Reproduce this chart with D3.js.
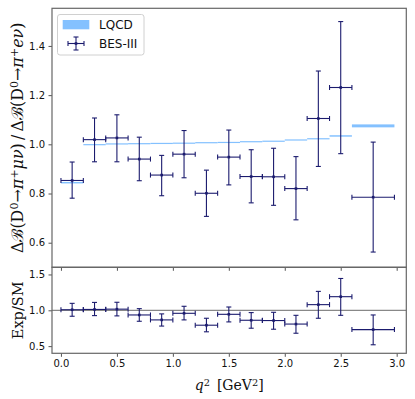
<!DOCTYPE html>
<html>
<head>
<meta charset="utf-8">
<script src="https://cdn.jsdelivr.net/npm/d3@7"></script>
<style>
  body { margin: 0; background: #fff; }
  svg { display: block; }
  .tick text { font-family: "DejaVu Sans", sans-serif; font-size: 10px; fill: #111; }
  .tick line { stroke: #555; }
  .axis path.domain { display: none; }
</style>
</head>
<body>
<div id="vis"></div>
<script>
// q^2 bins [GeV^2]
var binLo = [0.0, 0.2, 0.4, 0.6, 0.8, 1.0, 1.2, 1.4, 1.6, 1.8, 2.0, 2.2, 2.4, 2.6];
var binHi = [0.2, 0.4, 0.6, 0.8, 1.0, 1.2, 1.4, 1.6, 1.8, 2.0, 2.2, 2.4, 2.6, 2.98];
var binMid = [0.1, 0.3, 0.5, 0.7, 0.9, 1.1, 1.3, 1.5, 1.7, 1.9, 2.1, 2.3, 2.5, 2.79];

// LQCD prediction (band centre and half width)
var lqcd = [0.844, 0.999, 1.002, 1.003, 1.004, 1.005, 1.007, 1.008, 1.011, 1.013, 1.018, 1.023, 1.034, 1.075];
var lqcdErr = [0.003, 0.002, 0.002, 0.002, 0.002, 0.002, 0.002, 0.002, 0.002, 0.002, 0.002, 0.002, 0.003, 0.006];

// BES-III ratio measurement
var bes = [0.853, 1.019, 1.026, 0.940, 0.875, 0.960, 0.801, 0.948, 0.869, 0.868, 0.820, 1.105, 1.231, 0.785];
var besUp = [0.928, 1.107, 1.120, 1.029, 0.955, 1.056, 0.895, 1.058, 0.978, 0.984, 0.950, 1.298, 1.499, 1.009];
var besDn = [0.781, 0.929, 0.929, 0.852, 0.791, 0.864, 0.707, 0.835, 0.762, 0.752, 0.693, 0.910, 0.962, 0.562];

// Exp/SM
var ratio = [1.008, 1.012, 1.016, 0.935, 0.866, 0.958, 0.792, 0.944, 0.861, 0.857, 0.808, 1.079, 1.190, 0.731];
var ratioUp = [1.097, 1.110, 1.112, 1.023, 0.950, 1.056, 0.889, 1.046, 0.968, 0.972, 0.930, 1.264, 1.444, 0.935];
var ratioDn = [0.917, 0.926, 0.922, 0.847, 0.780, 0.866, 0.700, 0.838, 0.750, 0.736, 0.680, 0.889, 0.930, 0.519];

var xTicks = [0.0, 0.5, 1.0, 1.5, 2.0, 2.5, 3.0];
var yTicksTop = [0.6, 0.8, 1.0, 1.2, 1.4];
var yTicksBot = [0.5, 1.0, 1.5];

var width = 415, height = 399;
var left = 52, right = 406.3;
var topY0 = 8.3, topY1 = 267.3, botY1 = 353.3;

var dataColor = '#1b1b6e';
var bandColor = '#84c1ff';

var svg = d3.select('#vis').append('svg')
    .attr('width', width)
    .attr('height', height);

var x = d3.scaleLinear().domain([-0.08, 3.086]).range([left, right]);
var yTop = d3.scaleLinear().domain([0.5, 1.553]).range([topY1, topY0]);
var yBot = d3.scaleLinear().domain([0.4, 1.6]).range([botY1, topY1]);

function drawErrors(g, yScale, mids, vals, ups, dns) {
    var pts = g.selectAll('.pt')
        .data(mids.map(function (m, i) { return i; }))
        .enter().append('g')
        .attr('class', 'pt');

    pts.append('line')
        .attr('x1', i => x(binLo[i])).attr('x2', i => x(binHi[i]))
        .attr('y1', i => yScale(vals[i])).attr('y2', i => yScale(vals[i]));
    pts.append('line')
        .attr('x1', i => x(mids[i])).attr('x2', i => x(mids[i]))
        .attr('y1', i => yScale(ups[i])).attr('y2', i => yScale(dns[i]));
    // caps
    pts.append('line')
        .attr('x1', i => x(mids[i]) - 2.5).attr('x2', i => x(mids[i]) + 2.5)
        .attr('y1', i => yScale(ups[i])).attr('y2', i => yScale(ups[i]));
    pts.append('line')
        .attr('x1', i => x(mids[i]) - 2.5).attr('x2', i => x(mids[i]) + 2.5)
        .attr('y1', i => yScale(dns[i])).attr('y2', i => yScale(dns[i]));
    pts.append('line')
        .attr('x1', i => x(binLo[i])).attr('x2', i => x(binLo[i]))
        .attr('y1', i => yScale(vals[i]) - 2.5).attr('y2', i => yScale(vals[i]) + 2.5);
    pts.append('line')
        .attr('x1', i => x(binHi[i])).attr('x2', i => x(binHi[i]))
        .attr('y1', i => yScale(vals[i]) - 2.5).attr('y2', i => yScale(vals[i]) + 2.5);
    pts.selectAll('line')
        .attr('stroke', dataColor)
        .attr('stroke-width', 1.1);
    pts.append('rect')
        .attr('x', i => x(mids[i]) - 1.3).attr('y', i => yScale(vals[i]) - 1.3)
        .attr('width', 2.6).attr('height', 2.6)
        .attr('fill', dataColor);
}

// ---- top panel ----
var gTop = svg.append('g');

gTop.selectAll('.band')
    .data(lqcd.map(function (v, i) { return i; }))
    .enter().append('rect')
    .attr('class', 'band')
    .attr('x', i => x(binLo[i]))
    .attr('width', i => x(binHi[i]) - x(binLo[i]))
    .attr('y', i => yTop(lqcd[i] + lqcdErr[i]))
    .attr('height', i => Math.max(1.2, yTop(lqcd[i] - lqcdErr[i]) - yTop(lqcd[i] + lqcdErr[i])))
    .attr('fill', bandColor);

drawErrors(gTop, yTop, binMid, bes, besUp, besDn);

gTop.append('g')
    .attr('class', 'axis')
    .attr('transform', 'translate(' + left + ',0)')
    .call(d3.axisLeft(yTop).tickValues(yTicksTop).tickFormat(d3.format('.1f')).tickSize(3.5).tickPadding(3.5));

gTop.append('g')
    .attr('class', 'axis')
    .attr('transform', 'translate(0,' + topY1 + ')')
    .call(d3.axisBottom(x).tickValues(xTicks).tickFormat('').tickSize(3.5));

gTop.append('rect')
    .attr('x', left).attr('y', topY0)
    .attr('width', right - left).attr('height', topY1 - topY0)
    .attr('fill', 'none').attr('stroke', '#666').attr('stroke-width', 1.2);

// legend
var leg = svg.append('g');
leg.append('rect')
    .attr('x', 57.5).attr('y', 14.5).attr('width', 86.5).attr('height', 40.5)
    .attr('rx', 2.5)
    .attr('fill', 'white').attr('fill-opacity', 0.8)
    .attr('stroke', '#d0d0d0').attr('stroke-width', 1);
leg.append('rect')
    .attr('x', 62.7).attr('y', 20).attr('width', 26.6).attr('height', 9.3)
    .attr('fill', bandColor);
leg.append('line').attr('x1', 68).attr('x2', 84).attr('y1', 43.5).attr('y2', 43.5);
leg.append('line').attr('x1', 76).attr('x2', 76).attr('y1', 37).attr('y2', 50);
leg.append('line').attr('x1', 68).attr('x2', 68).attr('y1', 41).attr('y2', 46);
leg.append('line').attr('x1', 84).attr('x2', 84).attr('y1', 41).attr('y2', 46);
leg.append('line').attr('x1', 73.5).attr('x2', 78.5).attr('y1', 37).attr('y2', 37);
leg.append('line').attr('x1', 73.5).attr('x2', 78.5).attr('y1', 50).attr('y2', 50);
leg.selectAll('line').attr('stroke', dataColor).attr('stroke-width', 1.1);
leg.append('rect').attr('x', 74.7).attr('y', 42.2).attr('width', 2.6).attr('height', 2.6).attr('fill', dataColor);
leg.selectAll('text')
    .data(['LQCD', 'BES-III'])
    .enter().append('text')
    .attr('x', 99)
    .attr('y', (d, i) => 29 + i * 19)
    .attr('font-family', 'DejaVu Sans, sans-serif')
    .attr('font-size', 12)
    .attr('fill', '#111')
    .text(d => d);

// ---- bottom panel ----
var gBot = svg.append('g');

gBot.append('line')
    .attr('x1', left).attr('x2', right)
    .attr('y1', yBot(1.0)).attr('y2', yBot(1.0))
    .attr('stroke', '#888').attr('stroke-width', 1.2);

drawErrors(gBot, yBot, binMid, ratio, ratioUp, ratioDn);

gBot.append('g')
    .attr('class', 'axis')
    .attr('transform', 'translate(' + left + ',0)')
    .call(d3.axisLeft(yBot).tickValues(yTicksBot).tickFormat(d3.format('.1f')).tickSize(3.5).tickPadding(3.5));

gBot.append('g')
    .attr('class', 'axis')
    .attr('transform', 'translate(0,' + botY1 + ')')
    .call(d3.axisBottom(x).tickValues(xTicks).tickFormat(d3.format('.1f')).tickSize(3.5).tickPadding(3));

gBot.append('rect')
    .attr('x', left).attr('y', topY1)
    .attr('width', right - left).attr('height', botY1 - topY1)
    .attr('fill', 'none').attr('stroke', '#666').attr('stroke-width', 1.2);

// ---- axis labels ----
var serif = '"DejaVu Serif", "Liberation Serif", serif';

var yl = svg.append('text')
    .attr('transform', 'translate(23,' + ((topY0 + topY1) / 2) + ') rotate(-90)')
    .attr('text-anchor', 'middle')
    .attr('font-family', serif)
    .attr('font-size', 14)
    .attr('fill', '#111');
function part(t, opts) {
    var s = yl.append('tspan').text(t);
    if (opts && opts.sup) s.attr('baseline-shift', '45%').attr('font-size', '0.7em');
    if (opts && opts.it) s.attr('font-style', 'italic');
    return s;
}
part('Δ'); part('ℬ'); part('(D'); part('0', { sup: true }); part('→'); part('π', { it: true });
part('+', { sup: true }); part('μν', { it: true }); part(')\u2009/\u2009Δ'); part('ℬ'); part('(D');
part('0', { sup: true }); part('→'); part('π', { it: true }); part('+', { sup: true }); part('eν', { it: true }); part(')');
// fit label to the span it has in the reference (~232px)
var ylLen = yl.node().getComputedTextLength();
if (ylLen > 0) yl.attr('font-size', 14 * 232 / ylLen);

svg.append('text')
    .attr('transform', 'translate(23,' + ((topY1 + botY1) / 2) + ') rotate(-90)')
    .attr('text-anchor', 'middle')
    .attr('font-family', serif)
    .attr('font-size', 14.5)
    .attr('fill', '#111')
    .text('Exp/SM');

var xl = svg.append('text')
    .attr('x', (left + right) / 2)
    .attr('y', 390)
    .attr('text-anchor', 'middle')
    .attr('font-family', serif)
    .attr('font-size', 14)
    .attr('fill', '#111');
xl.append('tspan').attr('font-style', 'italic').text('q');
xl.append('tspan').attr('baseline-shift', '45%').attr('font-size', '0.7em').text('2');
xl.append('tspan').text('\u2002[GeV');
xl.append('tspan').attr('baseline-shift', '45%').attr('font-size', '0.7em').text('2');
xl.append('tspan').text(']');
</script>
</body>
</html>
